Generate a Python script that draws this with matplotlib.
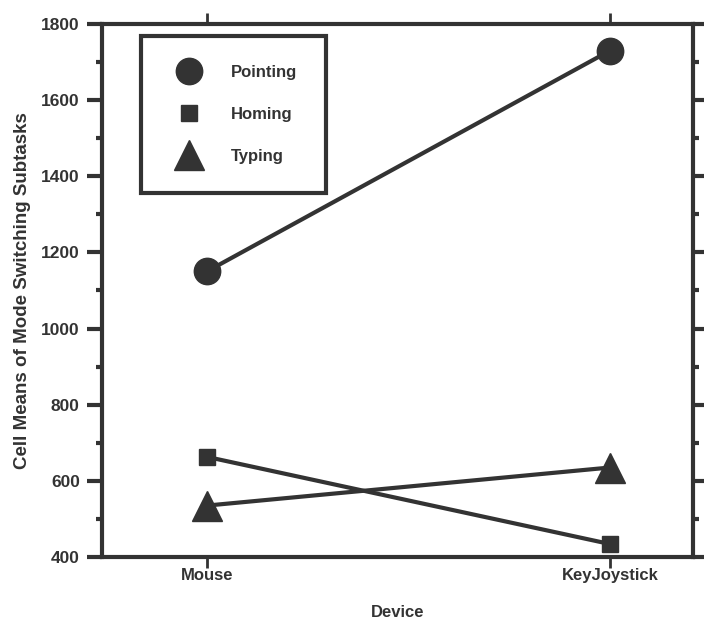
import matplotlib
matplotlib.use('Agg')
from matplotlib import pyplot as plt
from matplotlib.ticker import MultipleLocator

# data
devices = ['Mouse', 'KeyJoystick']
pointing = [1150, 1730]
homing = [663, 434]
typing = [535, 635]

ink = '#333333'
plt.rcParams['font.family'] = ['Liberation Sans', 'DejaVu Sans']
plt.rcParams['font.weight'] = 'bold'
plt.rcParams['axes.labelweight'] = 'bold'
plt.rcParams['text.color'] = ink

fig = plt.figure(figsize=(7.04, 6.19), dpi=100)
ax = fig.add_axes([0.1449, 0.1002, 0.8395, 0.861])

x = [0, 1]
ax.plot(x, pointing, color=ink, lw=3, marker='o', ms=19, label='Pointing')
ax.plot(x, homing, color=ink, lw=3, marker='s', ms=12, label='Homing')
ax.plot(x, typing, color=ink, lw=3, marker='^', ms=22, label='Typing')

ax.set_xlim(-0.26, 1.206)
ax.set_ylim(400, 1800)
ax.set_xticks(x)
ax.set_xticklabels(devices)
ax.yaxis.set_major_locator(MultipleLocator(200))
ax.yaxis.set_minor_locator(MultipleLocator(100))

for s in ax.spines.values():
    s.set_linewidth(3)
    s.set_color(ink)

ax.tick_params(axis='x', which='major', direction='out', length=8, width=2,
               color=ink, labelsize=12, labelcolor=ink, pad=0, top=True)
ax.tick_params(axis='y', which='major', direction='out', length=11, width=3,
               color=ink, labelsize=12.5, labelcolor=ink, pad=5, right=True)
ax.tick_params(axis='y', which='minor', direction='out', length=4, width=3,
               color=ink, right=True)

ax.set_xlabel('Device', fontsize=12, color=ink, labelpad=16)
ax.set_ylabel('Cell Means of Mode Switching Subtasks', fontsize=13.5, color=ink, labelpad=7)

leg = ax.legend(loc='upper left', bbox_to_anchor=(141 / 704, 1 - 36 / 619),
                bbox_transform=fig.transFigure, frameon=True, fancybox=False,
                handlelength=2.2, handletextpad=1.45, labelspacing=1.6,
                borderpad=1.75, borderaxespad=0, fontsize=12)
for h in leg.legend_handles:
    h.set_linestyle('None')
leg.get_frame().set_edgecolor(ink)
leg.get_frame().set_linewidth(3)
leg.get_frame().set_facecolor('white')
leg.get_frame().set_alpha(1)

plt.savefig('out.png', dpi=100)
